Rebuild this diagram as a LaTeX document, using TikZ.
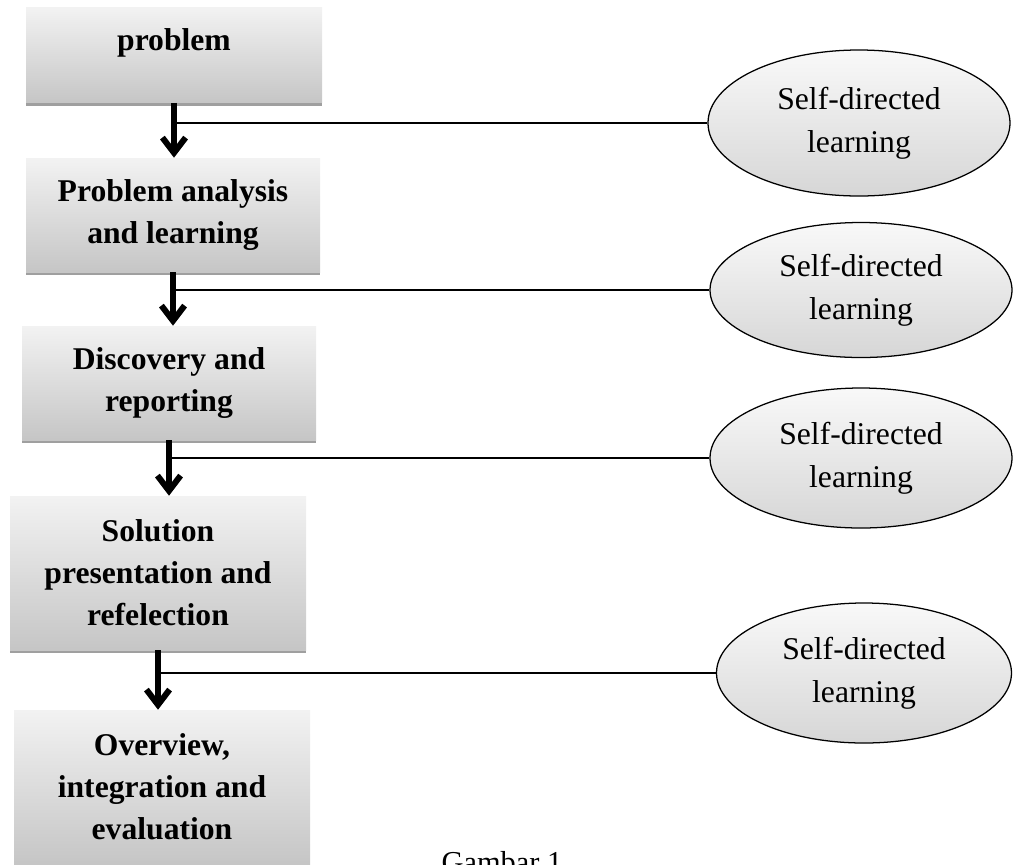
\documentclass[tikz,border=0pt]{standalone}
\usepackage{fontspec}
\setmainfont{Liberation Serif}
\usetikzlibrary{arrows.meta,shapes.geometric,shadows}

\tikzset{
  stage/.style={rectangle,top color=gray!10,bottom color=gray!45,align=center,
    font=\fontsize{22.5}{29.9}\selectfont\bfseries,inner sep=0pt,
    drop shadow={shadow xshift=0pt,shadow yshift=-0.8mm,fill=gray!75,opacity=1}},
  lifted/.style={text depth=0.75cm},
  level/.style={},
  study/.style={ellipse,draw,line width=0.9pt,top color=gray!5,bottom color=gray!32,
    align=center,font=\fontsize{22.5}{30.5}\selectfont,inner sep=0pt},
  flow/.style={line width=1.5mm,-{Straight Barb[length=3.8mm,width=5.8mm]}},
  branch/.style={line width=1.4pt}
}

\begin{document}
\begin{tikzpicture}[x=0.025cm,y=-0.025cm]
  \clip (0,0) rectangle (1013,864);
  % stages of the process
  \foreach \t/\x/\y/\w/\h/\o [count=\i] in {problem/174/55/296/95/lifted,
      {Problem analysis\\and learning}/173/215/294/114/level,
      {Discovery and\\reporting}/169/383/294/114/level,
      {Solution\\presentation and\\refelection}/158/573/296/154/level,
      {Overview,\\integration and\\evaluation}/162/787/296/154/level}{
    \node[stage,\o,minimum width=\w*0.025cm,minimum height=\h*0.025cm] (b\i) at (\x,\y) {\t};
  }
  % self-directed learning
  \foreach \x/\y/\w/\h [count=\i] in {859/123/302/146,861/290/302/135,861/458/302/140,864/673/295/140}{
    \node[study,minimum width=\w*0.025cm,minimum height=\h*0.025cm] (e\i) at (\x,\y) {Self-directed\\learning};
  }
  \foreach \i in {1,...,4}{
    \pgfmathtruncatemacro\n{\i+1}
    \draw[flow] (b\i.south) -- (b\i.south |- b\n.north);
    \coordinate (j\i) at (b\i.south |- e\i.west);
    \draw[branch] (j\i) -- (e\i.west);
  }
  \node[font=\fontsize{21.6}{26}\selectfont,anchor=base] (cap) at (502,872) {Gambar 1};
\end{tikzpicture}
\end{document}
